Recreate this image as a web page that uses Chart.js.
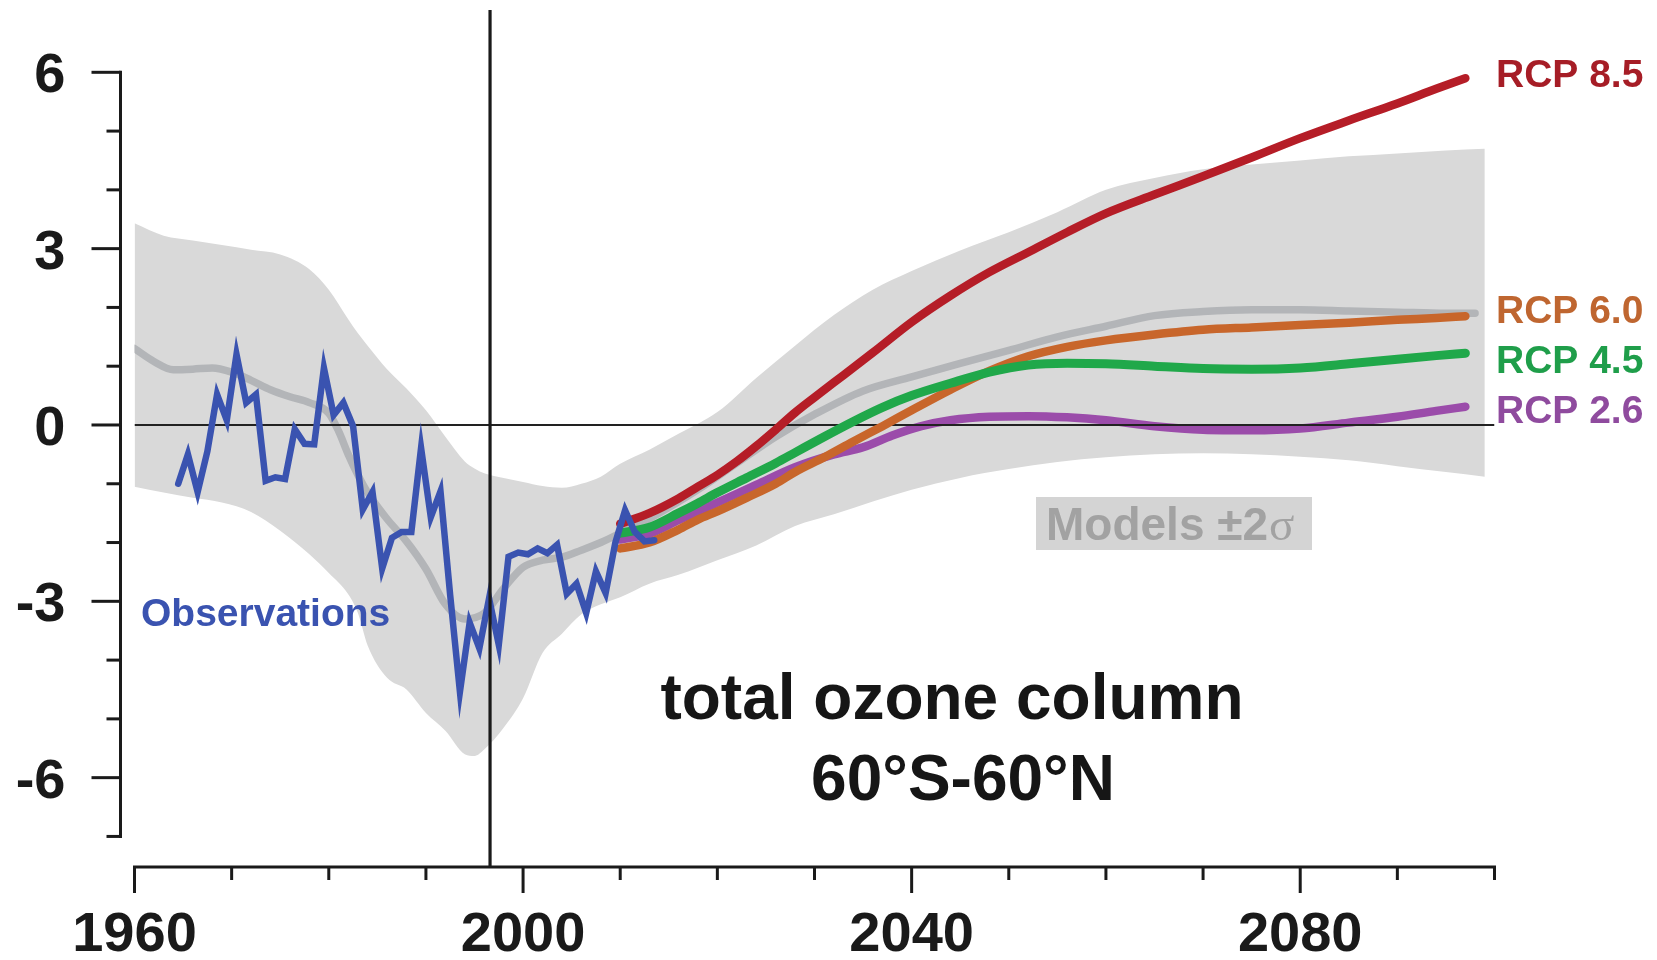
<!DOCTYPE html>
<html>
<head>
<meta charset="utf-8">
<script src="https://cdn.jsdelivr.net/npm/chart.js@4.4.1/dist/chart.umd.min.js"></script>
<style>
  html, body { margin: 0; padding: 0; background: #ffffff; }
  #wrap { width: 1657px; height: 960px; position: relative; }
</style>
</head>
<body>
<div id="wrap"><canvas id="ozone" width="1657" height="960"></canvas></div>
<script>
// Total ozone column anomaly (%), 60°S-60°N: observations, model mean with ±2σ envelope, RCP projections

// Observed annual means (plotted at mid-year)
const obsYears = [1964, 1965, 1966, 1967, 1968, 1969, 1970, 1971, 1972, 1973,
                  1974, 1975, 1976, 1977, 1978, 1979, 1980, 1981, 1982, 1983,
                  1984, 1985, 1986, 1987, 1988, 1989, 1990, 1991, 1992, 1993,
                  1994, 1995, 1996, 1997, 1998, 1999, 2000, 2001, 2002, 2003,
                  2004, 2005, 2006, 2007, 2008, 2009, 2010, 2011, 2012, 2013];
const obsValues = [-1.0, -0.5, -1.14, -0.45, 0.52, 0.08, 1.2, 0.38, 0.52, -0.95,
                   -0.89, -0.92, -0.07, -0.32, -0.33, 0.97, 0.17, 0.38, -0.02, -1.44,
                   -1.14, -2.44, -1.92, -1.82, -1.82, -0.39, -1.57, -1.13, -2.9, -4.54,
                   -3.36, -3.8, -2.95, -3.74, -2.24, -2.17, -2.2, -2.1, -2.18, -2.04,
                   -2.87, -2.7, -3.2, -2.49, -2.86, -2.0, -1.45, -1.82, -1.98, -1.96];

// Model ±2σ envelope
const bandYears = [1960, 1963, 1966, 1969, 1972, 1975, 1978, 1980, 1982, 1983,
                   1984, 1986, 1988, 1990, 1992, 1994, 1995, 1996, 1998, 2000,
                   2002, 2004, 2006, 2008, 2010, 2013, 2016, 2020, 2024, 2028,
                   2032, 2036, 2040, 2045, 2050, 2055, 2060, 2065, 2070, 2075,
                   2080, 2085, 2090, 2095, 2099];
const bandUpper = [3.43, 3.22, 3.14, 3.06, 2.98, 2.9, 2.65, 2.3, 1.8, 1.56,
                   1.35, 0.95, 0.62, 0.25, -0.2, -0.62, -0.74, -0.82, -0.9, -0.97,
                   -1.04, -1.07, -1.0, -0.88, -0.66, -0.42, -0.15, 0.22, 0.8, 1.35,
                   1.87, 2.3, 2.62, 2.97, 3.28, 3.62, 4.0, 4.2, 4.35, 4.43,
                   4.5, 4.57, 4.62, 4.67, 4.7];
const bandLower = [-1.05, -1.15, -1.24, -1.32, -1.48, -1.8, -2.2, -2.52, -2.88, -3.2,
                   -3.75, -4.3, -4.5, -4.9, -5.2, -5.6, -5.63, -5.52, -5.15, -4.65,
                   -3.88, -3.55, -3.22, -3.05, -2.93, -2.7, -2.55, -2.3, -2.05, -1.72,
                   -1.52, -1.3, -1.1, -0.9, -0.75, -0.63, -0.55, -0.5, -0.48, -0.5,
                   -0.54, -0.6, -0.7, -0.8, -0.88];

// Multi-model mean
const meanYears = [1960, 1962, 1964, 1966, 1968, 1970, 1972, 1974, 1976, 1978,
                   1980, 1981, 1982, 1983, 1984, 1986, 1988, 1990, 1992, 1994,
                   1996, 1998, 2000, 2002, 2004, 2006, 2008, 2010, 2014, 2018,
                   2022, 2026, 2030, 2035, 2040, 2045, 2050, 2055, 2060, 2065,
                   2070, 2075, 2080, 2085, 2090, 2095, 2098];
const meanValues = [1.3, 1.08, 0.94, 0.95, 0.97, 0.9, 0.76, 0.6, 0.48, 0.38,
                    0.2, -0.1, -0.5, -0.85, -1.15, -1.6, -1.98, -2.45, -3.05, -3.3,
                    -3.2, -2.78, -2.42, -2.3, -2.25, -2.13, -2.0, -1.84, -1.5, -1.1,
                    -0.65, -0.2, 0.18, 0.58, 0.82, 1.05, 1.27, 1.5, 1.68, 1.86,
                    1.93, 1.96, 1.96, 1.94, 1.92, 1.9, 1.9];

// RCP scenario projections
const rcp85Years = [2010, 2013, 2016, 2018, 2020, 2022, 2024, 2026, 2028, 2030,
                    2033, 2036, 2040, 2044, 2048, 2052, 2056, 2060, 2065, 2070,
                    2075, 2080, 2085, 2090, 2094, 2097];
const rcp85Values = [-1.68, -1.5, -1.25, -1.05, -0.85, -0.62, -0.36, -0.08, 0.21, 0.47,
                     0.85, 1.23, 1.75, 2.2, 2.6, 2.94, 3.28, 3.6, 3.92, 4.23,
                     4.55, 4.88, 5.18, 5.47, 5.72, 5.9];

const rcp60Years = [2010, 2013, 2016, 2018, 2020, 2023, 2026, 2028, 2031, 2034,
                    2037, 2040, 2044, 2048, 2052, 2056, 2060, 2065, 2070, 2075,
                    2080, 2085, 2090, 2094, 2097];
const rcp60Values = [-2.1, -2.0, -1.78, -1.61, -1.47, -1.24, -1.0, -0.8, -0.55, -0.28,
                     -0.02, 0.25, 0.6, 0.92, 1.17, 1.33, 1.44, 1.54, 1.62, 1.66,
                     1.7, 1.74, 1.79, 1.82, 1.85];

const rcp45Years = [2010, 2013, 2016, 2018, 2020, 2023, 2026, 2028, 2031, 2034,
                    2037, 2040, 2044, 2048, 2052, 2056, 2060, 2065, 2070, 2075,
                    2080, 2085, 2090, 2094, 2097];
const rcp45Values = [-1.84, -1.74, -1.5, -1.33, -1.15, -0.9, -0.65, -0.47, -0.2, 0.06,
                     0.3, 0.5, 0.71, 0.9, 1.02, 1.05, 1.04, 1.0, 0.96, 0.95,
                     0.97, 1.04, 1.12, 1.18, 1.22];

const rcp26Years = [2010, 2013, 2016, 2020, 2024, 2028, 2032, 2035, 2038, 2041,
                    2044, 2048, 2052, 2056, 2060, 2065, 2070, 2075, 2080, 2085,
                    2090, 2094, 2097];
const rcp26Values = [-1.95, -1.85, -1.62, -1.32, -1.02, -0.72, -0.5, -0.38, -0.18, -0.02,
                     0.08, 0.14, 0.15, 0.13, 0.08, -0.02, -0.08, -0.09, -0.06, 0.04,
                     0.14, 0.24, 0.31];

// Reference lines
const zeroLineYears = [1960, 2100];
const zeroLineValues = [0, 0];
const cutoffYear = 1996.6;

// Axes ticks and labels
const xTickYears = [1960, 1970, 1980, 1990, 2000, 2010, 2020, 2030, 2040, 2050, 2060, 2070, 2080, 2090, 2100];
const xLabelYears = [1960, 2000, 2040, 2080];
const yTickValues = [-7, -6, -5, -4, -3, -2, -1, 0, 1, 2, 3, 4, 5, 6];
const yLabelValues = [-6, -3, 0, 3, 6];

const rcpLabels = ['RCP 8.5', 'RCP 6.0', 'RCP 4.5', 'RCP 2.6'];

const SANS = "'Liberation Sans', Arimo, Arial, Helvetica, sans-serif";
const COL = {
  band: '#d9d9d9',
  mean: '#b3b5b8',
  obs: '#3a53b0',
  r85: '#b51d27',
  r60: '#c8662b',
  r45: '#20a84a',
  r26: '#9b4caa',
  ink: '#1a1a1a'
};

const pts = (xs, ys, dx = 0) => xs.map((x, i) => ({ x: x + dx, y: ys[i] }));

const lineSet = (label, data, color, width, order, extra = {}) => Object.assign({
  label, data, order,
  borderColor: color, backgroundColor: color,
  borderWidth: width, pointRadius: 0, fill: false,
  tension: 0.4, cubicInterpolationMode: 'monotone',
  borderCapStyle: 'round', borderJoinStyle: 'round'
}, extra);

const datasets = [
  lineSet('Observations', pts(obsYears, obsValues, 0.5), COL.obs, 6.5, 0,
          { tension: 0, cubicInterpolationMode: 'default', borderJoinStyle: 'miter' }),
  lineSet('RCP 8.5', pts(rcp85Years, rcp85Values), COL.r85, 8.5, 1),
  lineSet('RCP 4.5', pts(rcp45Years, rcp45Values), COL.r45, 9, 2),
  lineSet('RCP 6.0', pts(rcp60Years, rcp60Values), COL.r60, 8.5, 3),
  lineSet('zero', pts(zeroLineYears, zeroLineValues), '#222222', 2.2, 4,
          { tension: 0, borderCapStyle: 'butt' }),
  lineSet('RCP 2.6', pts(rcp26Years, rcp26Values), COL.r26, 8.5, 5),
  lineSet('Model mean', pts(meanYears, meanValues), COL.mean, 7.5, 6),
  lineSet('Models +2σ', pts(bandYears, bandUpper), COL.band, 0, 7,
          { fill: { target: '+1' }, backgroundColor: COL.band }),
  lineSet('Models -2σ', pts(bandYears, bandLower), COL.band, 0, 8)
];

// Offset axes, cutoff line and annotations drawn through the chart scales
const decorations = {
  id: 'decorations',
  afterDatasetsDraw(chart) {
    const { ctx, chartArea, scales } = chart;
    const xs = scales.x, ys = scales.y;
    const xAxisY = chartArea.bottom;
    const yAxisX = chartArea.left - 14;

    ctx.save();
    ctx.strokeStyle = COL.ink;
    ctx.fillStyle = COL.ink;

    // vertical cutoff line
    const cx = xs.getPixelForValue(cutoffYear);
    ctx.lineWidth = 3.2;
    ctx.beginPath();
    ctx.moveTo(cx, chartArea.top);
    ctx.lineTo(cx, xAxisY);
    ctx.stroke();

    // y axis spine and ticks
    ctx.lineWidth = 3;
    ctx.lineCap = 'square';
    ctx.beginPath();
    ctx.moveTo(yAxisX, ys.getPixelForValue(yTickValues[yTickValues.length - 1]));
    ctx.lineTo(yAxisX, ys.getPixelForValue(yTickValues[0]));
    ctx.stroke();
    ctx.lineCap = 'butt';
    yTickValues.forEach(v => {
      const py = ys.getPixelForValue(v);
      const len = yLabelValues.includes(v) ? 29 : 14;
      ctx.beginPath();
      ctx.moveTo(yAxisX, py);
      ctx.lineTo(yAxisX - len, py);
      ctx.stroke();
    });
    ctx.font = `bold 56px ${SANS}`;
    ctx.textAlign = 'right';
    ctx.textBaseline = 'alphabetic';
    yLabelValues.forEach(v => {
      const py = ys.getPixelForValue(v);
      ctx.fillText(String(v), yAxisX - 55, py + 20);
    });

    // x axis spine and ticks
    const x0 = xs.getPixelForValue(xTickYears[0]);
    const x1 = xs.getPixelForValue(xTickYears[xTickYears.length - 1]);
    ctx.beginPath();
    ctx.moveTo(x0 - 1.5, xAxisY);
    ctx.lineTo(x1 + 1.5, xAxisY);
    ctx.stroke();
    xTickYears.forEach(yr => {
      const px = xs.getPixelForValue(yr);
      const len = xLabelYears.includes(yr) ? 26 : 13;
      ctx.beginPath();
      ctx.moveTo(px, xAxisY);
      ctx.lineTo(px, xAxisY + len);
      ctx.stroke();
    });
    ctx.textAlign = 'center';
    xLabelYears.forEach(yr => {
      ctx.fillText(String(yr), xs.getPixelForValue(yr), xAxisY + 84);
    });

    // title
    ctx.font = `bold 64px ${SANS}`;
    ctx.fillStyle = '#161616';
    ctx.fillText('total ozone column', 952, 719);
    ctx.fillText('60°S-60°N', 963, 800);

    // scenario labels
    ctx.font = `bold 39px ${SANS}`;
    ctx.textAlign = 'left';
    const labelCols = ['#a61d26', '#bf6630', '#1f9e4a', '#8f4b9e'];
    const labelBase = [87, 323, 373, 423];
    rcpLabels.forEach((t, i) => {
      ctx.fillStyle = labelCols[i];
      ctx.fillText(t, 1496, labelBase[i]);
    });

    // observations label
    ctx.fillStyle = COL.obs;
    ctx.fillText('Observations', 141, 626);

    // model envelope label
    ctx.fillStyle = '#d4d4d4';
    ctx.fillRect(1036, 497, 276, 53);
    ctx.fillStyle = '#a2a2a2';
    ctx.font = `bold 46px ${SANS}`;
    const base = 'Models ±2';
    ctx.fillText(base, 1046, 540);
    const w = ctx.measureText(base).width;
    ctx.font = `47px 'Liberation Serif', 'DejaVu Serif', serif`;
    ctx.fillText('σ', 1046 + w + 1, 540);

    ctx.restore();
  }
};

new Chart(document.getElementById('ozone'), {
  type: 'line',
  data: { datasets },
  options: {
    responsive: false,
    animation: false,
    events: [],
    layout: { padding: { left: 134.5, right: 162.5, top: 10, bottom: 93 } },
    scales: {
      x: { type: 'linear', min: 1960, max: 2100, display: false },
      y: { type: 'linear', min: -7.52, max: 7.06, display: false }
    },
    plugins: {
      legend: { display: false },
      tooltip: { enabled: false }
    }
  },
  plugins: [decorations]
});
</script>
</body>
</html>
